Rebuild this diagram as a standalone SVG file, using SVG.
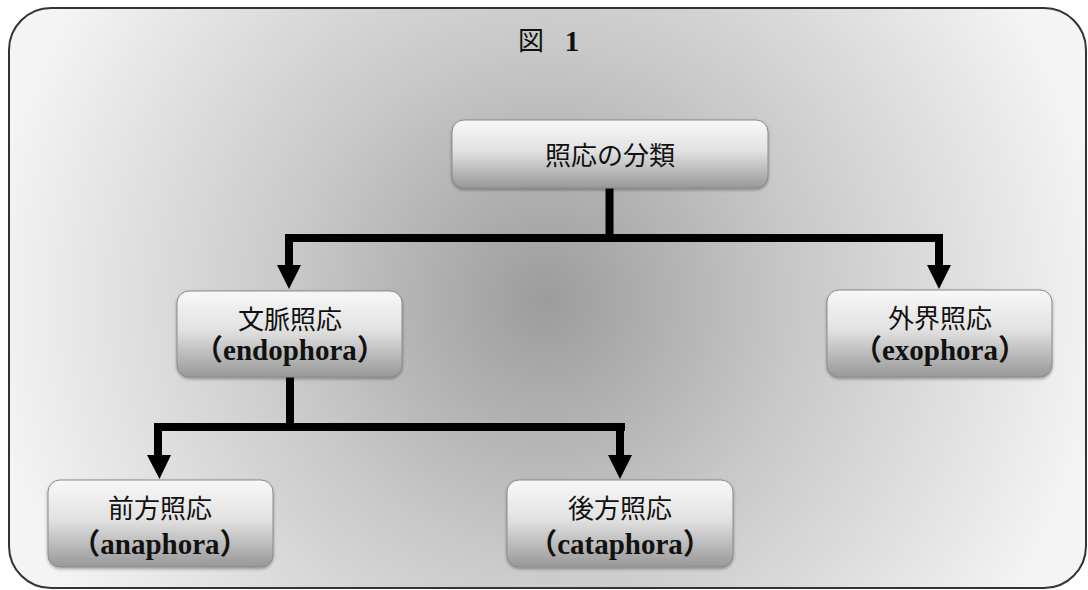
<svg xmlns="http://www.w3.org/2000/svg" width="1088" height="590" viewBox="0 0 1088 590">
  <defs>
    <radialGradient id="bg" cx="545" cy="300" r="560" gradientUnits="userSpaceOnUse">
      <stop offset="0" stop-color="#9c9c9c"/>
      <stop offset="0.45" stop-color="#c8c8c8"/>
      <stop offset="1" stop-color="#f4f4f4"/>
    </radialGradient>
    <linearGradient id="nodeFill" x1="0" y1="0" x2="0" y2="1">
      <stop offset="0" stop-color="#f8f8f8"/>
      <stop offset="0.45" stop-color="#e2e2e2"/>
      <stop offset="1" stop-color="#989898"/>
    </linearGradient>
    <filter id="sh" x="-10%" y="-10%" width="120%" height="130%">
      <feDropShadow dx="0" dy="1.5" stdDeviation="1.5" flood-color="#000" flood-opacity="0.35"/>
    </filter>
  </defs>
  <style>
    .node rect { fill: url(#nodeFill); stroke: #8a8a8a; stroke-width: 1; filter: url(#sh); }
    .jp { font-family: "Liberation Serif", "Noto Sans CJK JP", serif; font-size: 26px; font-weight: normal; fill: #111; text-anchor: middle; }
    .en { font-family: "Liberation Serif", "Noto Sans CJK JP", serif; font-size: 29px; font-weight: bold; fill: #111; text-anchor: middle; }
    .conn line { stroke: #000; stroke-width: 8; }
    .conn polygon { fill: #000; }
  </style>
  <rect width="1088" height="590" fill="#ffffff"/>
  <rect id="frame" x="9" y="8" width="1077" height="580" rx="42" ry="42" fill="url(#bg)" stroke="#333" stroke-width="2"/>
  <g id="title">
    <text x="531" y="50" class="jp" font-size="27">図</text>
    <text x="572" y="51" class="en">1</text>
  </g>

  <g id="connectors" class="conn">
    <line x1="609.5" y1="188" x2="609.5" y2="238"/>
    <line x1="285" y1="238" x2="943" y2="238"/>
    <line x1="289" y1="234" x2="289" y2="268"/>
    <polygon points="277,265 301,265 289,289"/>
    <line x1="939" y1="234" x2="939" y2="268"/>
    <polygon points="927,265 951,265 939,289"/>
    <line x1="290" y1="377" x2="290" y2="427"/>
    <line x1="154" y1="427" x2="625" y2="427"/>
    <line x1="158" y1="423" x2="158" y2="458"/>
    <polygon points="147,455 171,455 159.5,479"/>
    <line x1="620" y1="423" x2="620" y2="458"/>
    <polygon points="608,455 632,455 620,479"/>
  </g>

  <g id="root" class="node">
    <rect x="452" y="120" width="316" height="68" rx="12"/>
    <text x="610" y="165" class="jp" font-size="27">照応の分類</text>
  </g>
  <g id="endophora" class="node">
    <rect x="177" y="291" width="225" height="86" rx="12"/>
    <text x="290" y="329" class="jp">文脈照応</text>
    <text x="290" y="360" class="en">（endophora）</text>
  </g>
  <g id="exophora" class="node">
    <rect x="827" y="290" width="225" height="87" rx="12"/>
    <text x="940" y="328" class="jp">外界照応</text>
    <text x="940" y="360" class="en">（exophora）</text>
  </g>
  <g id="anaphora" class="node">
    <rect x="48" y="480" width="225" height="87" rx="12"/>
    <text x="160" y="518" class="jp">前方照応</text>
    <text x="160" y="554" class="en">（anaphora）</text>
  </g>
  <g id="cataphora" class="node">
    <rect x="507" y="480" width="226" height="87" rx="12"/>
    <text x="620" y="518" class="jp">後方照応</text>
    <text x="620" y="554" class="en">（cataphora）</text>
  </g>
</svg>
